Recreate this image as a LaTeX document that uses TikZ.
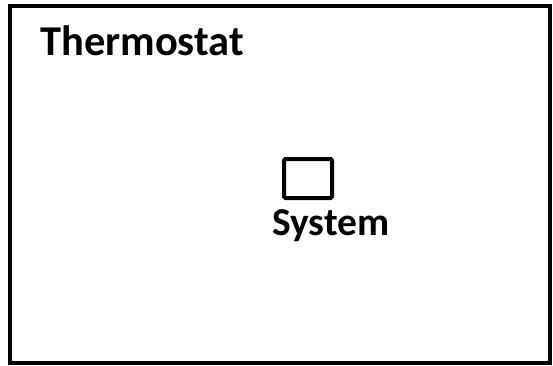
\documentclass[tikz,border=0pt]{standalone}
\usepackage{fontspec}
\setmainfont{Carlito}
\begin{document}
\begin{tikzpicture}[x=1pt,y=-1pt,
  frame/.style={draw=black,line width=4pt},
  sysbox/.style={draw=black,line width=4pt,rounded corners=1.5pt},
  lbl/.style={font=\bfseries,inner sep=0pt,anchor=base west}]
\useasboundingbox (0,0) rectangle (553,365);
\draw[frame] (10,6) rectangle (550,363);
\node[lbl,font=\fontsize{42.5}{50}\selectfont\bfseries] (thermo) at (40,55) {Thermostat};
\draw[sysbox] (284,159) rectangle (332,198);
\coordinate (sysc) at (308,178);
\node[lbl,font=\fontsize{39.5}{47}\selectfont\bfseries] (system) at (272,235) {System};
\end{tikzpicture}
\end{document}
